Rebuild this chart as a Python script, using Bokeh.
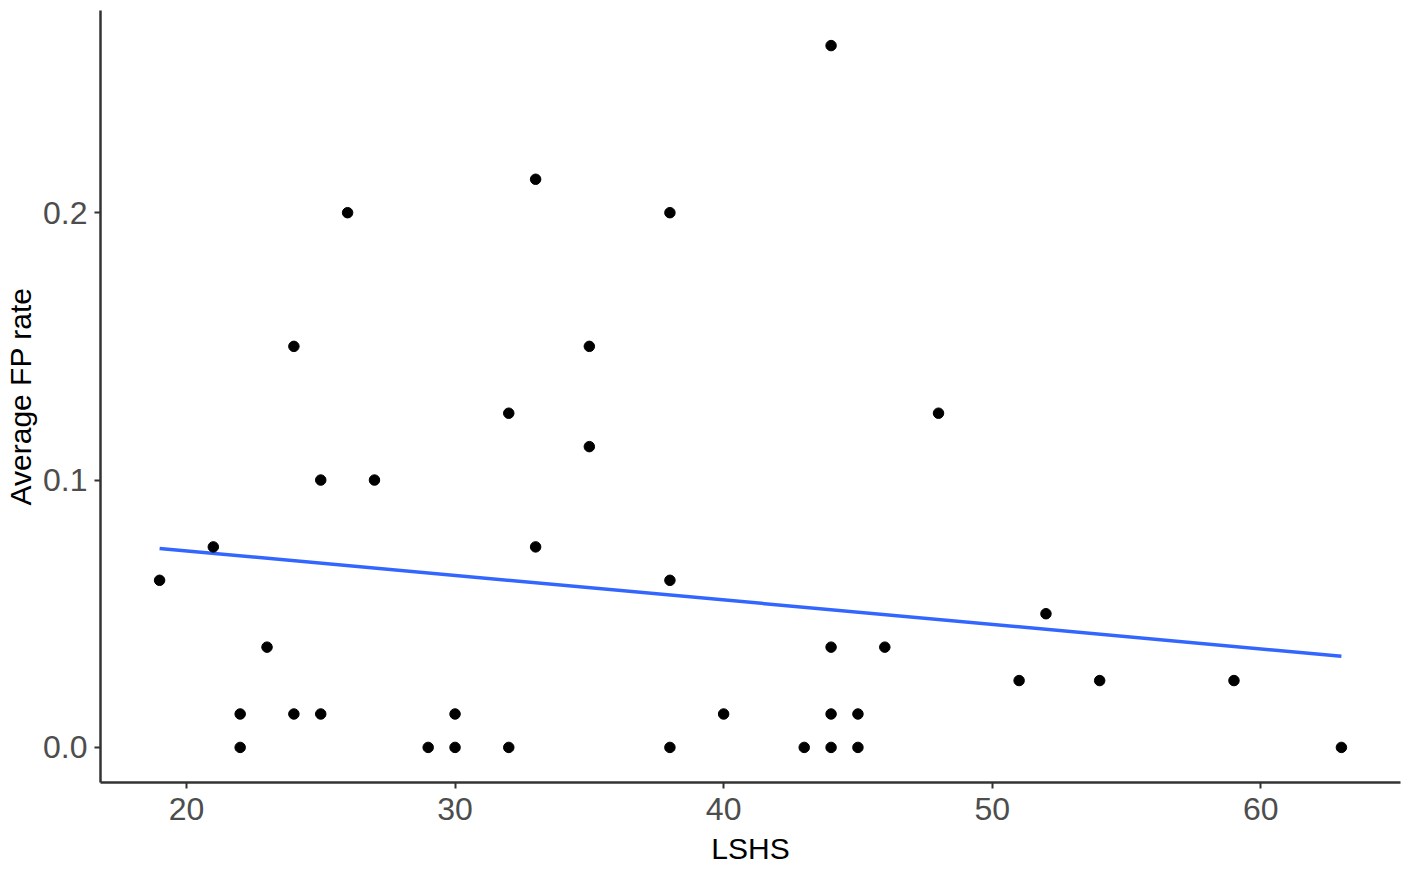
from bokeh.plotting import figure
from bokeh.embed import file_html
from bokeh.resources import INLINE
from bokeh.models import Range1d, FixedTicker

# Data
lshs = [19, 21, 22, 22, 23, 24, 24, 25, 25, 26, 27, 29, 30, 30, 32, 32, 33, 33,
        35, 35, 38, 38, 38, 40, 43, 44, 44, 44, 44, 45, 45, 46, 48, 51, 52, 54, 59, 63]
fp_rate = [0.0625, 0.075, 0.0125, 0.0, 0.0375, 0.15, 0.0125, 0.1, 0.0125, 0.2, 0.1,
           0.0, 0.0125, 0.0, 0.125, 0.0, 0.2125, 0.075, 0.15, 0.1125, 0.2, 0.0625, 0.0,
           0.0125, 0.0, 0.2625, 0.0375, 0.0125, 0.0, 0.0125, 0.0, 0.0375, 0.125, 0.025,
           0.05, 0.025, 0.025, 0.0]
fit_x = [19, 63]
fit_y = [0.0744, 0.0341]
x_ticks = [20, 30, 40, 50, 60]
y_ticks = [0.0, 0.1, 0.2]
y_tick_labels = {0.0: "0.0", 0.1: "0.1", 0.2: "0.2"}

p = figure(width=1410, height=868, output_backend="svg", toolbar_location=None,
           x_range=Range1d(16.8, 65.2), y_range=Range1d(-0.013125, 0.275625),
           min_border_left=100, min_border_right=10, min_border_top=10, min_border_bottom=86)
p.outline_line_color = None
p.grid.visible = False
p.background_fill_color = "white"
p.border_fill_color = "white"

p.line(fit_x, fit_y, line_color="#3366FF", line_width=3.5)
p.scatter(lshs, fp_rate, size=10.5, color="black")

font = "Liberation Sans"
for ax in (p.xaxis[0], p.yaxis[0]):
    ax.axis_line_color = "#333333"
    ax.axis_line_width = 2.5
    ax.major_tick_line_color = "#333333"
    ax.major_tick_line_width = 2
    ax.major_tick_out = 6
    ax.major_tick_in = 0
    ax.minor_tick_line_color = None
    ax.major_label_text_font = font
    ax.major_label_text_font_size = "32px"
    ax.major_label_text_color = "#4d4d4d"
    ax.axis_label_text_font = font
    ax.axis_label_text_font_size = "30px"
    ax.axis_label_text_font_style = "normal"
    ax.axis_label_text_color = "black"

p.xaxis.ticker = FixedTicker(ticks=x_ticks)
p.yaxis.ticker = FixedTicker(ticks=y_ticks)
p.yaxis.major_label_overrides = y_tick_labels
p.xaxis.axis_label = "LSHS"
p.yaxis.axis_label = "Average FP rate"
p.xaxis.major_label_standoff = 9
p.yaxis.major_label_standoff = 7
p.xaxis.axis_label_standoff = 9
p.yaxis.axis_label_standoff = 3

open("out.html", "w").write(file_html(p, INLINE))
